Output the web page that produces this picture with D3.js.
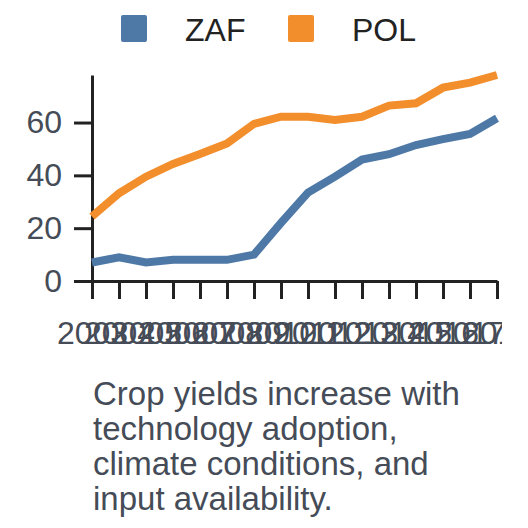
<!DOCTYPE html>
<html>
<head>
<meta charset="utf-8">
<script src="https://cdn.jsdelivr.net/npm/d3@7"></script>
<style>
  body { margin: 0; background: #fff; }
  svg { display: block; font-family: "Liberation Sans", Arial, sans-serif; }
  .axis path, .axis line { stroke: #222; stroke-width: 3; }
  .axis text { fill: #454c57; font-size: 32px; }
</style>
</head>
<body>
<svg id="chart" width="502" height="528"></svg>
<script>
// values
var years = ["2003", "2004", "2005", "2006", "2007", "2008", "2009", "2010",
             "2011", "2012", "2013", "2014", "2015", "2016", "2017", "2018"];
var zaf = [7, 9, 7, 8, 8, 8, 10, 22, 33.5, 39.5, 46, 48, 51.5, 53.7, 55.7, 61.6];
var pol = [24.4, 33.2, 39.5, 44.3, 48.1, 52.1, 59.5, 62.2, 62.2, 61, 62.2, 66.4, 67.3, 73.2, 75.1, 78];
var seriesNames = ["ZAF", "POL"];
var seriesColors = ["#4e79a7", "#f28e2b"];
var yTicks = [0, 20, 40, 60];
var caption = "Crop yields increase with technology adoption, climate conditions, and input availability.";

var svg = d3.select("#chart");

var x = d3.scalePoint()
    .domain(years)
    .range([92, 497]);

var y = d3.scaleLinear()
    .domain([0, d3.max(zaf.concat(pol))])
    .range([281, 75]);

// axes
svg.append("g")
    .attr("class", "axis")
    .attr("transform", "translate(0,281)")
    .call(d3.axisBottom(x).tickSize(18).tickSizeOuter(0).tickPadding(22));

svg.append("g")
    .attr("class", "axis")
    .attr("transform", "translate(92,0)")
    .call(d3.axisLeft(y).tickValues(yTicks).tickSize(18).tickSizeOuter(0).tickPadding(12));

// lines
var line = d3.line()
    .x(function(d, i) { return x(years[i]); })
    .y(function(d) { return y(d); });

[zaf, pol].forEach(function(s, k) {
    svg.append("path")
        .datum(s)
        .attr("fill", "none")
        .attr("stroke", seriesColors[k])
        .attr("stroke-width", 8)
        .attr("d", line);
});

// legend
var legend = svg.append("g").attr("transform", "translate(121,15)");
seriesNames.forEach(function(name, k) {
    var g = legend.append("g").attr("transform", "translate(" + (k * 167) + ",0)");
    g.append("rect")
        .attr("width", 26).attr("height", 27)
        .attr("rx", 2)
        .attr("fill", seriesColors[k]);
    g.append("text")
        .attr("x", 64).attr("y", 26)
        .attr("font-size", 32)
        .attr("fill", "#222")
        .text(name);
});

// caption, wrapped
var cap = svg.append("text")
    .attr("x", 93).attr("y", 405)
    .attr("font-size", 33)
    .attr("fill", "#454c57");

var words = caption.split(" "), cur = [];
var tspan = cap.append("tspan").attr("x", 93).attr("dy", 0);
words.forEach(function(w) {
    cur.push(w);
    tspan.text(cur.join(" "));
    if (tspan.node().getComputedTextLength() > 390 && cur.length > 1) {
        cur.pop();
        tspan.text(cur.join(" "));
        cur = [w];
        tspan = cap.append("tspan").attr("x", 93).attr("dy", "1.06em").text(w);
    }
});
</script>
</body>
</html>
